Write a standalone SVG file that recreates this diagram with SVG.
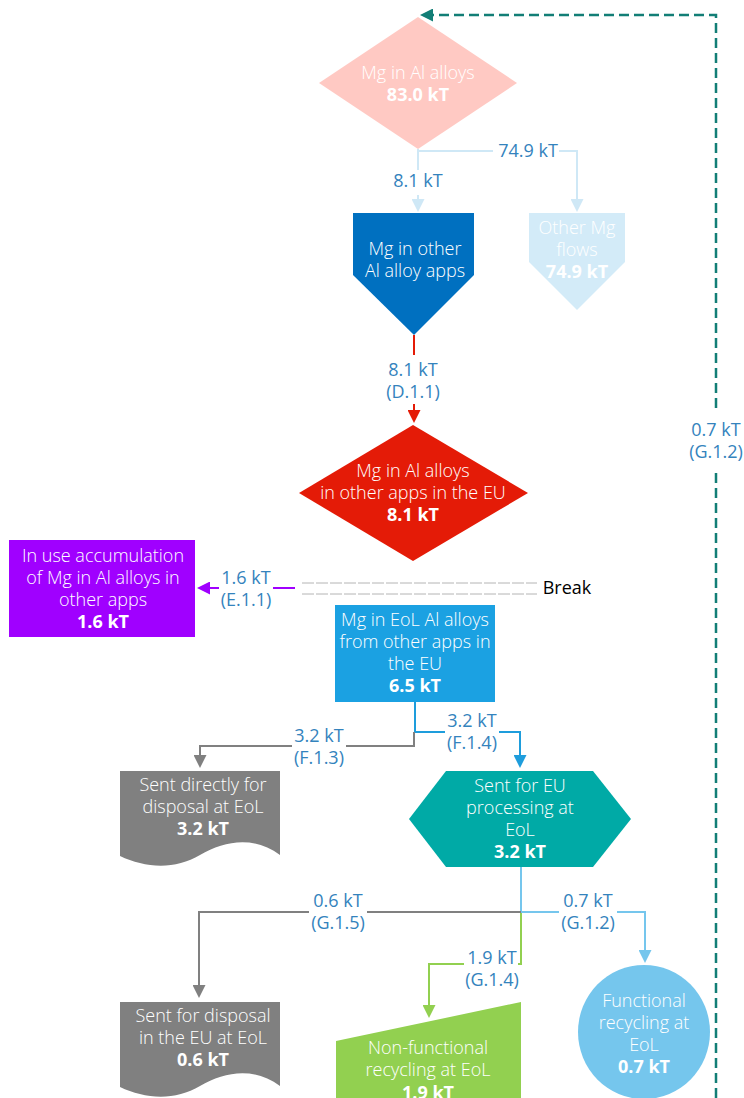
<svg xmlns="http://www.w3.org/2000/svg" width="744" height="1098" viewBox="0 0 744 1098">
  <style>
    text { font-family: "Open Sans", "Noto Sans", "DejaVu Sans", sans-serif; font-size: 18px; text-anchor: middle; }
    .node { fill: #ffffff; font-weight: 300; }
    .val { font-weight: 700; }
    .lbl { fill: #3483bd; font-weight: 400; }
    .bg { fill: #ffffff; }
    .conn { fill: none; stroke-width: 2; }
    .c-pale { stroke: #cfe8f6; }
    .c-red { stroke: #e41b07; }
    .c-purple { stroke: #a000ff; }
    .c-blue { stroke: #1e9ddc; }
    .c-gray { stroke: #808080; }
    .c-sky { stroke: #75c6ed; }
    .c-green { stroke: #92d050; }
    .c-loop { stroke: #127e76; stroke-width: 2.5; stroke-dasharray: 10 5; }
    .brk { fill: none; stroke: #b4b4b4; stroke-width: 1; stroke-dasharray: 12 2; }
  </style>
  <defs>
    <marker id="a-pale" markerUnits="userSpaceOnUse" markerWidth="13" markerHeight="13" refX="0" refY="6.5" orient="auto"><path d="M0,0 L13,6.5 L0,13 Z" fill="#cfe8f6"/></marker>
    <marker id="a-red" markerUnits="userSpaceOnUse" markerWidth="13" markerHeight="13" refX="0" refY="6.5" orient="auto"><path d="M0,0 L13,6.5 L0,13 Z" fill="#e41b07"/></marker>
    <marker id="a-purple" markerUnits="userSpaceOnUse" markerWidth="13" markerHeight="13" refX="0" refY="6.5" orient="auto"><path d="M0,0 L13,6.5 L0,13 Z" fill="#a000ff"/></marker>
    <marker id="a-blue" markerUnits="userSpaceOnUse" markerWidth="13" markerHeight="13" refX="0" refY="6.5" orient="auto"><path d="M0,0 L13,6.5 L0,13 Z" fill="#1e9ddc"/></marker>
    <marker id="a-gray" markerUnits="userSpaceOnUse" markerWidth="13" markerHeight="13" refX="0" refY="6.5" orient="auto"><path d="M0,0 L13,6.5 L0,13 Z" fill="#808080"/></marker>
    <marker id="a-sky" markerUnits="userSpaceOnUse" markerWidth="13" markerHeight="13" refX="0" refY="6.5" orient="auto"><path d="M0,0 L13,6.5 L0,13 Z" fill="#75c6ed"/></marker>
    <marker id="a-green" markerUnits="userSpaceOnUse" markerWidth="13" markerHeight="13" refX="0" refY="6.5" orient="auto"><path d="M0,0 L13,6.5 L0,13 Z" fill="#92d050"/></marker>
    <marker id="a-loop" markerUnits="userSpaceOnUse" markerWidth="13" markerHeight="13" refX="0" refY="6.5" orient="auto"><path d="M0,0 L13,6.5 L0,13 Z" fill="#127e76"/></marker>
  </defs>

  <!-- flows -->
  <g id="connectors">
    <path class="conn c-pale" d="M418,149 V199" marker-end="url(#a-pale)"/>
    <path class="conn c-pale" d="M418,151 H577 V199" marker-end="url(#a-pale)"/>
    <rect class="bg" x="493" y="142" width="66" height="19"/>
    <text class="lbl" x="528" y="157">74.9 kT</text>
    <rect class="bg" x="391" y="170" width="54" height="25"/>
    <text class="lbl" x="418" y="187">8.1 kT</text>

    <path class="conn c-red" d="M414,335 V410" marker-end="url(#a-red)"/>
    <rect class="bg" x="384" y="355" width="59" height="49"/>
    <text class="lbl" x="413" y="376">8.1 kT</text>
    <text class="lbl" x="413" y="398">(D.1.1)</text>

    <path class="conn c-purple" d="M295,588 H210" marker-end="url(#a-purple)"/>
    <rect class="bg" x="219" y="569" width="54" height="41"/>
    <text class="lbl" x="246" y="584">1.6 kT</text>
    <text class="lbl" x="246" y="606">(E.1.1)</text>

    <path class="brk" d="M302,583 H537 M302,594 H537"/>
    <text x="567" y="594" style="fill:#000000">Break</text>

    <path class="conn c-blue" d="M415,702 V732 H520 V755" marker-end="url(#a-blue)"/>
    <path class="conn c-gray" d="M414,732 V746 H200 V755" marker-end="url(#a-gray)"/>
    <rect class="bg" x="445" y="712" width="54" height="40"/>
    <text class="lbl" x="472" y="727">3.2 kT</text>
    <text class="lbl" x="472" y="749">(F.1.4)</text>
    <rect class="bg" x="292" y="727" width="54" height="41"/>
    <text class="lbl" x="319" y="742">3.2 kT</text>
    <text class="lbl" x="319" y="764">(F.1.3)</text>

    <path class="conn c-sky" d="M521,867 V912 H645 V950" marker-end="url(#a-sky)"/>
    <path class="conn c-gray" d="M521,912 H199 V985" marker-end="url(#a-gray)"/>
    <path class="conn c-green" d="M521,913 V964 H429 V1005" marker-end="url(#a-green)"/>
    <rect class="bg" x="309" y="892" width="58" height="42"/>
    <text class="lbl" x="338" y="907">0.6 kT</text>
    <text class="lbl" x="338" y="929">(G.1.5)</text>
    <rect class="bg" x="559" y="892" width="58" height="42"/>
    <text class="lbl" x="588" y="907">0.7 kT</text>
    <text class="lbl" x="588" y="929">(G.1.2)</text>
    <rect class="bg" x="464" y="947" width="54" height="45"/>
    <text class="lbl" x="492" y="964">1.9 kT</text>
    <text class="lbl" x="492" y="986">(G.1.4)</text>

    <path class="conn c-loop" d="M716,1098 V15 H433" marker-end="url(#a-loop)"/>
    <rect class="bg" x="688" y="411" width="56" height="57"/>
    <text class="lbl" x="716" y="436">0.7 kT</text>
    <text class="lbl" x="716" y="458">(G.1.2)</text>
  </g>

  <g id="mg-al-alloys">
    <polygon points="418,17 517,83 418,149 319,83" fill="#ffc9c3"/>
    <text class="node" x="418" y="79">Mg in Al alloys</text>
    <text class="node val" x="418" y="101">83.0 kT</text>
  </g>

  <g id="mg-other-apps">
    <polygon points="353,213 474,213 474,275 414,335 353,275" fill="#0070c0"/>
    <text class="node" x="415" y="255">Mg in other</text>
    <text class="node" x="415" y="277">Al alloy apps</text>
  </g>

  <g id="other-mg-flows">
    <polygon points="529,213 625,213 625,262 577,310 529,262" fill="#d3ebf8"/>
    <text class="node" x="577" y="234">Other Mg</text>
    <text class="node" x="577" y="256">flows</text>
    <text class="node val" x="577" y="278">74.9 kT</text>
  </g>

  <g id="mg-eu-apps">
    <polygon points="413,425 528,493 413,561 299,493" fill="#e41b07"/>
    <text class="node" x="413" y="477">Mg in Al alloys</text>
    <text class="node" x="413" y="499">in other apps in the EU</text>
    <text class="node val" x="413" y="521">8.1 kT</text>
  </g>

  <g id="in-use-accumulation">
    <rect x="9" y="540" width="186" height="97" fill="#a000ff"/>
    <text class="node" x="103" y="562">In use accumulation</text>
    <text class="node" x="103" y="584">of Mg in Al alloys in</text>
    <text class="node" x="103" y="606">other apps</text>
    <text class="node val" x="103" y="628">1.6 kT</text>
  </g>

  <g id="eol-other-apps">
    <rect x="335" y="605" width="160" height="97" fill="#1ba1e2"/>
    <text class="node" x="415" y="626">Mg in EoL Al alloys</text>
    <text class="node" x="415" y="648">from other apps in</text>
    <text class="node" x="415" y="670">the EU</text>
    <text class="node val" x="415" y="692">6.5 kT</text>
  </g>

  <g id="direct-disposal">
    <path d="M120,771 H280 V855 C255,836 225,840 200,855 C175,870 145,868 120,856 Z" fill="#808080"/>
    <text class="node" x="203" y="791">Sent directly for</text>
    <text class="node" x="203" y="813">disposal at EoL</text>
    <text class="node val" x="203" y="835">3.2 kT</text>
  </g>

  <g id="eu-processing">
    <polygon points="409,819 446,771 593,771 631,819 593,867 446,867" fill="#00aaa6"/>
    <text class="node" x="520" y="792">Sent for EU</text>
    <text class="node" x="520" y="814">processing at</text>
    <text class="node" x="520" y="836">EoL</text>
    <text class="node val" x="520" y="858">3.2 kT</text>
  </g>

  <g id="eu-disposal">
    <path d="M120,1002 H280 V1086 C255,1067 225,1071 200,1086 C175,1101 145,1099 120,1087 Z" fill="#808080"/>
    <text class="node" x="203" y="1022">Sent for disposal</text>
    <text class="node" x="203" y="1044">in the EU at EoL</text>
    <text class="node val" x="203" y="1066">0.6 kT</text>
  </g>

  <g id="non-functional-recycling">
    <polygon points="336,1041 521,1002 521,1110 336,1110" fill="#92d050"/>
    <text class="node" x="428" y="1054">Non-functional</text>
    <text class="node" x="428" y="1076">recycling at EoL</text>
    <text class="node val" x="428" y="1099">1.9 kT</text>
  </g>

  <g id="functional-recycling">
    <ellipse cx="644" cy="1032" rx="66" ry="67" fill="#75c6ed"/>
    <text class="node" x="644" y="1007">Functional</text>
    <text class="node" x="644" y="1029">recycling at</text>
    <text class="node" x="644" y="1051">EoL</text>
    <text class="node val" x="644" y="1073">0.7 kT</text>
  </g>
</svg>
